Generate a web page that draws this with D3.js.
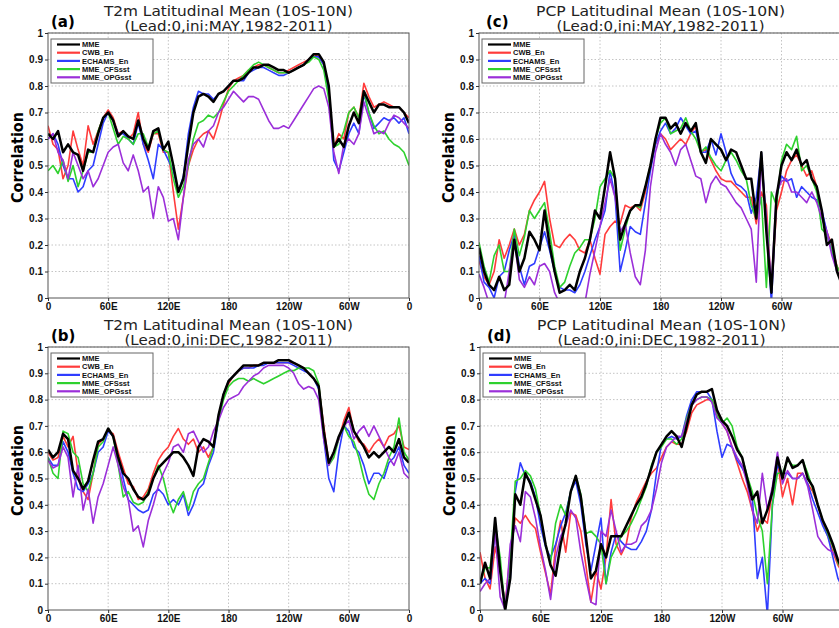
<!DOCTYPE html>
<html>
<head>
<meta charset="utf-8">
<script src="https://cdn.jsdelivr.net/npm/d3@7"></script>
<style>
  body { margin: 0; background: #fff; }
  svg { display: block; }
  .tick text { font-family: "Liberation Sans", Arial, sans-serif; font-weight: bold; font-size: 10px; fill: #111; }
  .tick line { stroke: #333; }
</style>
</head>
<body>
<svg id="chart" width="839" height="628"></svg>
<script>
// longitudes sampled every 5 degrees, 0 -> 360
var lons = d3.range(0, 361, 5);

var seriesNames = ["MME", "CWB_En", "ECHAMS_En", "MME_CFSsst", "MME_OPGsst"];
var xTickLons = [0, 60, 120, 180, 240, 300, 360];
var xTickLabels = ["0", "60E", "120E", "180", "120W", "60W", "0"];
var yTicks = [0, 0.1, 0.2, 0.3, 0.4, 0.5, 0.6, 0.7, 0.8, 0.9, 1];
var yTickLabels = ["0", "0.1", "0.2", "0.3", "0.4", "0.5", "0.6", "0.7", "0.8", "0.9", "1"];

// (a) T2m, ini MAY
var t2mMayMME = [0.62,0.60,0.63,0.55,0.58,0.55,0.54,0.48,0.56,0.55,0.62,0.68,0.70,0.67,0.61,0.63,0.61,0.60,0.67,0.60,0.56,0.63,0.64,0.56,0.59,0.50,0.40,0.45,0.58,0.70,0.76,0.77,0.76,0.74,0.77,0.78,0.80,0.82,0.82,0.83,0.85,0.87,0.87,0.88,0.88,0.87,0.86,0.86,0.85,0.86,0.87,0.88,0.90,0.92,0.92,0.89,0.80,0.57,0.60,0.57,0.65,0.70,0.66,0.78,0.74,0.70,0.73,0.73,0.72,0.72,0.72,0.70,0.66];
var t2mMayCWB = [0.65,0.58,0.56,0.45,0.50,0.63,0.56,0.50,0.65,0.58,0.63,0.68,0.71,0.68,0.62,0.63,0.60,0.62,0.70,0.58,0.55,0.62,0.62,0.55,0.55,0.40,0.26,0.38,0.50,0.56,0.60,0.62,0.63,0.60,0.66,0.73,0.79,0.82,0.83,0.84,0.86,0.87,0.88,0.88,0.87,0.86,0.85,0.85,0.86,0.87,0.88,0.89,0.90,0.92,0.91,0.88,0.78,0.57,0.62,0.60,0.70,0.72,0.68,0.81,0.76,0.72,0.73,0.74,0.73,0.72,0.72,0.70,0.68];
var t2mMayECH = [0.60,0.62,0.58,0.50,0.45,0.45,0.40,0.42,0.48,0.50,0.58,0.66,0.70,0.67,0.62,0.62,0.60,0.58,0.66,0.58,0.52,0.45,0.58,0.56,0.52,0.48,0.40,0.46,0.62,0.72,0.78,0.77,0.77,0.75,0.77,0.78,0.80,0.82,0.82,0.82,0.85,0.86,0.87,0.87,0.86,0.85,0.84,0.84,0.85,0.86,0.87,0.88,0.90,0.91,0.91,0.88,0.78,0.52,0.48,0.55,0.62,0.66,0.62,0.77,0.70,0.64,0.66,0.68,0.67,0.68,0.66,0.68,0.62];
var t2mMayCFS = [0.48,0.50,0.47,0.52,0.44,0.50,0.42,0.48,0.55,0.55,0.63,0.68,0.70,0.64,0.58,0.61,0.60,0.58,0.62,0.62,0.57,0.62,0.63,0.56,0.55,0.45,0.38,0.42,0.50,0.60,0.66,0.67,0.69,0.68,0.70,0.74,0.78,0.80,0.82,0.84,0.86,0.88,0.89,0.88,0.87,0.86,0.85,0.85,0.85,0.86,0.87,0.88,0.89,0.91,0.90,0.86,0.75,0.57,0.58,0.63,0.70,0.72,0.68,0.78,0.70,0.65,0.62,0.63,0.60,0.58,0.57,0.55,0.50];
var t2mMayOPG = [0.60,0.62,0.55,0.52,0.45,0.55,0.50,0.45,0.48,0.42,0.45,0.50,0.55,0.57,0.58,0.51,0.48,0.54,0.48,0.40,0.42,0.30,0.42,0.38,0.29,0.30,0.22,0.38,0.52,0.58,0.60,0.57,0.63,0.65,0.70,0.72,0.75,0.78,0.76,0.74,0.76,0.76,0.75,0.71,0.67,0.64,0.64,0.65,0.64,0.67,0.70,0.73,0.76,0.79,0.80,0.79,0.72,0.55,0.47,0.58,0.60,0.58,0.62,0.74,0.68,0.62,0.63,0.62,0.66,0.69,0.68,0.66,0.64];

// (b) T2m, ini DEC
var t2mDecMME = [0.61,0.58,0.60,0.67,0.65,0.53,0.50,0.46,0.49,0.57,0.64,0.65,0.69,0.66,0.58,0.52,0.50,0.46,0.43,0.42,0.44,0.50,0.54,0.56,0.58,0.60,0.60,0.58,0.55,0.51,0.62,0.65,0.64,0.62,0.74,0.82,0.87,0.89,0.91,0.93,0.93,0.93,0.93,0.94,0.94,0.94,0.95,0.95,0.95,0.94,0.93,0.92,0.90,0.88,0.85,0.68,0.56,0.60,0.66,0.70,0.75,0.68,0.65,0.62,0.58,0.60,0.58,0.60,0.62,0.60,0.65,0.58,0.56];
var t2mDecCWB = [0.60,0.57,0.58,0.66,0.62,0.66,0.52,0.45,0.42,0.52,0.63,0.65,0.68,0.67,0.60,0.54,0.48,0.47,0.42,0.43,0.46,0.52,0.57,0.60,0.62,0.66,0.69,0.65,0.63,0.65,0.60,0.62,0.58,0.62,0.73,0.82,0.86,0.89,0.91,0.92,0.92,0.93,0.93,0.94,0.94,0.94,0.94,0.94,0.94,0.94,0.93,0.92,0.90,0.88,0.85,0.70,0.56,0.60,0.65,0.72,0.77,0.68,0.64,0.63,0.60,0.63,0.65,0.62,0.66,0.67,0.70,0.62,0.61];
var t2mDecECH = [0.58,0.55,0.55,0.64,0.60,0.52,0.46,0.45,0.48,0.52,0.60,0.62,0.68,0.66,0.58,0.50,0.42,0.40,0.38,0.37,0.38,0.44,0.46,0.44,0.40,0.42,0.40,0.44,0.36,0.40,0.46,0.48,0.55,0.60,0.72,0.82,0.87,0.89,0.91,0.92,0.92,0.92,0.93,0.93,0.94,0.94,0.94,0.94,0.94,0.93,0.92,0.91,0.90,0.88,0.84,0.65,0.50,0.45,0.60,0.70,0.68,0.62,0.60,0.55,0.48,0.52,0.52,0.50,0.56,0.58,0.62,0.55,0.52];
var t2mDecCFS = [0.58,0.52,0.50,0.68,0.67,0.60,0.58,0.48,0.45,0.52,0.62,0.64,0.69,0.66,0.55,0.43,0.45,0.41,0.40,0.41,0.45,0.50,0.55,0.50,0.42,0.37,0.42,0.45,0.38,0.45,0.48,0.50,0.56,0.62,0.72,0.80,0.85,0.87,0.88,0.88,0.87,0.88,0.87,0.86,0.87,0.88,0.89,0.90,0.91,0.91,0.92,0.92,0.92,0.91,0.86,0.68,0.55,0.58,0.65,0.70,0.66,0.64,0.58,0.50,0.44,0.42,0.48,0.52,0.58,0.62,0.73,0.60,0.57];
var t2mDecOPG = [0.57,0.54,0.55,0.62,0.58,0.43,0.55,0.38,0.46,0.33,0.43,0.48,0.55,0.62,0.55,0.47,0.42,0.30,0.32,0.24,0.34,0.40,0.47,0.52,0.56,0.62,0.63,0.60,0.67,0.68,0.64,0.60,0.62,0.68,0.72,0.77,0.80,0.81,0.82,0.85,0.87,0.89,0.90,0.92,0.93,0.93,0.93,0.93,0.92,0.90,0.86,0.84,0.85,0.84,0.80,0.65,0.55,0.60,0.65,0.70,0.72,0.65,0.68,0.70,0.66,0.70,0.66,0.62,0.58,0.55,0.60,0.52,0.50];

// (c) PCP, ini MAY
var pcpMayMME = [0.19,0.10,0.05,0.03,0.08,0.03,0.05,0.22,0.10,0.15,0.25,0.22,0.18,0.33,0.20,0.10,0.02,0.03,0.05,0.03,0.10,0.15,0.22,0.33,0.30,0.42,0.55,0.45,0.22,0.28,0.33,0.35,0.35,0.42,0.50,0.60,0.68,0.68,0.64,0.66,0.62,0.66,0.63,0.66,0.55,0.51,0.60,0.58,0.56,0.52,0.56,0.55,0.50,0.45,0.45,0.30,0.55,0.25,0.02,0.38,0.50,0.55,0.52,0.56,0.50,0.52,0.45,0.42,0.33,0.20,0.22,0.10,0.05];
var pcpMayCWB = [0.14,0.08,0.05,0.10,0.22,0.15,0.20,0.26,0.20,0.24,0.33,0.37,0.40,0.44,0.30,0.20,0.19,0.22,0.24,0.22,0.18,0.17,0.22,0.15,0.09,0.24,0.27,0.29,0.28,0.35,0.34,0.35,0.33,0.40,0.50,0.58,0.62,0.60,0.56,0.58,0.60,0.58,0.62,0.65,0.55,0.56,0.52,0.48,0.45,0.44,0.44,0.42,0.40,0.38,0.38,0.28,0.40,0.35,0.02,0.33,0.40,0.48,0.52,0.54,0.50,0.46,0.48,0.42,0.32,0.25,0.20,0.12,0.08];
var pcpMayECH = [0.16,0.06,0.04,0.00,0.08,0.10,0.18,0.24,0.12,0.05,0.12,0.13,0.19,0.25,0.18,0.10,0.04,0.03,0.03,0.02,0.05,0.10,0.16,0.22,0.27,0.33,0.48,0.38,0.10,0.18,0.27,0.25,0.24,0.36,0.48,0.58,0.63,0.66,0.62,0.64,0.68,0.65,0.62,0.63,0.55,0.55,0.60,0.54,0.62,0.55,0.47,0.43,0.42,0.40,0.32,0.38,0.55,0.28,-0.02,0.38,0.46,0.44,0.45,0.38,0.42,0.40,0.38,0.37,0.33,0.25,0.18,0.10,0.08];
var pcpMayCFS = [0.21,0.12,0.06,0.16,0.20,0.10,0.10,0.26,0.16,0.23,0.33,0.30,0.33,0.36,0.25,0.12,0.04,0.06,0.12,0.17,0.19,0.22,0.22,0.30,0.42,0.45,0.48,0.45,0.18,0.26,0.33,0.35,0.34,0.42,0.50,0.60,0.66,0.68,0.62,0.63,0.64,0.68,0.63,0.60,0.55,0.57,0.53,0.50,0.48,0.52,0.55,0.52,0.48,0.45,0.35,0.30,0.38,0.04,0.40,0.35,0.52,0.58,0.56,0.61,0.48,0.50,0.45,0.40,0.26,0.24,0.18,0.12,0.08];
var pcpMayOPG = [0.09,0.04,-0.02,-0.02,-0.02,-0.02,0.10,0.22,0.07,0.04,0.08,0.05,0.12,0.13,0.10,0.02,-0.02,-0.02,-0.02,-0.02,-0.02,-0.02,0.09,0.18,0.27,0.36,0.45,0.38,0.25,0.28,0.17,0.08,0.05,0.18,0.42,0.55,0.62,0.58,0.55,0.50,0.56,0.58,0.52,0.46,0.45,0.36,0.43,0.46,0.43,0.42,0.39,0.36,0.34,0.30,0.26,0.06,0.52,0.30,0.05,0.40,0.44,0.45,0.40,0.40,0.38,0.36,0.40,0.36,0.30,0.25,0.16,0.10,0.08];

// (d) PCP, ini DEC
var pcpDecMME = [0.10,0.18,0.12,0.35,0.15,0.00,0.12,0.44,0.40,0.52,0.48,0.42,0.36,0.25,0.17,0.13,0.25,0.33,0.45,0.51,0.43,0.28,0.12,0.15,0.25,0.20,0.28,0.28,0.28,0.32,0.36,0.40,0.43,0.48,0.54,0.60,0.63,0.66,0.68,0.66,0.62,0.70,0.78,0.82,0.83,0.83,0.84,0.76,0.72,0.70,0.66,0.61,0.58,0.50,0.42,0.45,0.33,0.38,0.45,0.58,0.50,0.58,0.54,0.55,0.57,0.50,0.47,0.40,0.34,0.30,0.25,0.19,0.15];
var pcpDecCWB = [0.22,0.12,0.08,0.24,0.15,0.02,0.22,0.35,0.33,0.36,0.33,0.31,0.22,0.14,0.06,0.24,0.34,0.22,0.37,0.36,0.30,0.17,0.03,0.15,0.08,0.20,0.42,0.25,0.21,0.25,0.35,0.41,0.45,0.49,0.52,0.54,0.58,0.62,0.64,0.63,0.63,0.68,0.75,0.78,0.79,0.80,0.80,0.74,0.71,0.68,0.62,0.56,0.50,0.45,0.38,0.30,0.35,0.33,0.45,0.57,0.43,0.50,0.40,0.52,0.52,0.48,0.45,0.40,0.33,0.28,0.22,0.17,0.14];
var pcpDecECH = [0.10,0.12,0.10,0.30,0.15,0.02,0.12,0.45,0.56,0.51,0.49,0.43,0.32,0.24,0.20,0.25,0.32,0.37,0.45,0.49,0.40,0.25,0.15,0.25,0.35,0.10,0.22,0.29,0.26,0.24,0.23,0.23,0.26,0.30,0.38,0.52,0.63,0.65,0.66,0.65,0.66,0.74,0.80,0.83,0.83,0.83,0.80,0.68,0.58,0.63,0.62,0.57,0.54,0.50,0.44,0.12,0.20,-0.02,0.40,0.55,0.52,0.52,0.50,0.50,0.52,0.48,0.42,0.37,0.32,0.28,0.20,0.12,0.08];
var pcpDecCFS = [0.10,0.16,0.16,0.33,0.20,0.00,0.20,0.49,0.50,0.53,0.51,0.46,0.36,0.25,0.18,0.33,0.40,0.36,0.45,0.51,0.44,0.29,0.30,0.28,0.25,0.10,0.20,0.24,0.28,0.30,0.33,0.37,0.42,0.47,0.55,0.60,0.62,0.65,0.65,0.63,0.65,0.73,0.78,0.80,0.81,0.81,0.80,0.74,0.71,0.73,0.70,0.62,0.58,0.51,0.45,0.36,0.30,0.10,0.40,0.52,0.52,0.57,0.55,0.55,0.57,0.52,0.46,0.40,0.34,0.29,0.24,0.18,0.14];
var pcpDecOPG = [0.07,0.10,0.12,0.30,0.05,0.00,0.25,0.32,0.26,0.45,0.43,0.35,0.24,0.15,0.04,0.20,0.28,0.32,0.38,0.35,0.22,0.12,0.03,0.02,0.30,0.28,0.38,0.30,0.22,0.25,0.25,0.26,0.32,0.34,0.38,0.46,0.56,0.62,0.64,0.66,0.66,0.72,0.78,0.80,0.81,0.81,0.79,0.73,0.71,0.68,0.62,0.58,0.55,0.48,0.38,0.33,0.52,0.38,0.47,0.60,0.48,0.53,0.50,0.50,0.52,0.47,0.38,0.28,0.25,0.23,0.22,0.19,0.15];

var lineColors = {"MME": "#000000", "CWB_En": "#ff3b3b", "ECHAMS_En": "#2f3dff", "MME_CFSsst": "#2ed12e", "MME_OPGsst": "#9b2fd9"};
var lineWidths = {"MME": 2.5, "CWB_En": 1.6, "ECHAMS_En": 1.6, "MME_CFSsst": 1.6, "MME_OPGsst": 1.6};

var panels = [
  {tag: "(a)", t1: "T2m Latitudinal Mean (10S-10N)", t2: "(Lead:0,ini:MAY,1982-2011)", left: 48, top: 33, w: 361, h: 265,
   data: [t2mMayMME, t2mMayCWB, t2mMayECH, t2mMayCFS, t2mMayOPG]},
  {tag: "(b)", t1: "T2m Latitudinal Mean (10S-10N)", t2: "(Lead:0,ini:DEC,1982-2011)", left: 48, top: 347, w: 361, h: 263,
   data: [t2mDecMME, t2mDecCWB, t2mDecECH, t2mDecCFS, t2mDecOPG]},
  {tag: "(c)", t1: "PCP Latitudinal Mean (10S-10N)", t2: "(Lead:0,ini:MAY,1982-2011)", left: 479, top: 33, w: 363, h: 265,
   data: [pcpMayMME, pcpMayCWB, pcpMayECH, pcpMayCFS, pcpMayOPG]},
  {tag: "(d)", t1: "PCP Latitudinal Mean (10S-10N)", t2: "(Lead:0,ini:DEC,1982-2011)", left: 480, top: 347, w: 363, h: 263,
   data: [pcpDecMME, pcpDecCWB, pcpDecECH, pcpDecCFS, pcpDecOPG]}
];

var svg = d3.select("#chart");
svg.append("rect").attr("width", 839).attr("height", 628).attr("fill", "#fff");

var titleFont = "'DejaVu Sans', 'Liberation Sans', sans-serif";

panels.forEach(function(p, pi) {
  var x = d3.scaleLinear().domain([0, 360]).range([p.left, p.left + p.w]);
  var y = d3.scaleLinear().domain([0, 1]).range([p.top + p.h, p.top]);
  var g = svg.append("g").attr("class", "panel");

  // dotted grid
  g.append("g").selectAll("line").data(yTicks.slice(1)).enter().append("line")
    .attr("x1", p.left).attr("x2", p.left + p.w)
    .attr("y1", function(d) { return y(d); }).attr("y2", function(d) { return y(d); })
    .attr("stroke", "#c4c4c4").attr("stroke-width", 1).attr("stroke-dasharray", "1.5,2");
  g.append("g").selectAll("line").data(xTickLons.slice(1, -1)).enter().append("line")
    .attr("x1", function(d) { return x(d); }).attr("x2", function(d) { return x(d); })
    .attr("y1", p.top).attr("y2", p.top + p.h)
    .attr("stroke", "#c4c4c4").attr("stroke-width", 1).attr("stroke-dasharray", "1.5,2");

  // clip for the lines
  var clipId = "clip" + pi;
  svg.append("clipPath").attr("id", clipId).append("rect")
    .attr("x", p.left).attr("y", p.top).attr("width", p.w).attr("height", p.h);

  var line = d3.line()
    .x(function(d, i) { return x(lons[i]); })
    .y(function(d) { return y(d); });

  var order = [1, 2, 3, 4, 0]; // MME drawn on top
  var lg = g.append("g").attr("clip-path", "url(#" + clipId + ")");
  order.forEach(function(k) {
    lg.append("path")
      .datum(p.data[k])
      .attr("d", line)
      .attr("fill", "none")
      .attr("stroke", lineColors[seriesNames[k]])
      .attr("stroke-width", lineWidths[seriesNames[k]])
      .attr("stroke-linejoin", "round");
  });

  // frame
  g.append("rect").attr("x", p.left).attr("y", p.top).attr("width", p.w).attr("height", p.h)
    .attr("fill", "none").attr("stroke", "#555").attr("stroke-width", 1);

  // axes
  var yAxis = d3.axisLeft(y).tickValues(yTicks)
    .tickFormat(function(d, i) { return yTickLabels[i]; })
    .tickSize(3).tickPadding(2);
  g.append("g").attr("transform", "translate(" + p.left + ",0)").call(yAxis)
    .call(function(s) { s.select(".domain").remove(); });

  var xAxis = d3.axisBottom(x).tickValues(xTickLons)
    .tickFormat(function(d, i) { return xTickLabels[i]; })
    .tickSize(3).tickPadding(2);
  g.append("g").attr("transform", "translate(0," + (p.top + p.h) + ")").call(xAxis)
    .call(function(s) { s.select(".domain").remove(); });

  // titles
  var cx = p.left + p.w / 2;
  g.append("text").attr("x", cx).attr("y", p.top - 17).attr("text-anchor", "middle")
    .attr("font-family", titleFont).attr("font-size", 13.5).attr("fill", "#222")
    .attr("textLength", 249).attr("lengthAdjust", "spacingAndGlyphs")
    .text(p.t1);
  g.append("text").attr("x", cx).attr("y", p.top - 2).attr("text-anchor", "middle")
    .attr("font-family", titleFont).attr("font-size", 13.5).attr("fill", "#222")
    .attr("textLength", 208).attr("lengthAdjust", "spacingAndGlyphs")
    .text(p.t2);
  g.append("text").attr("x", p.left + 3 + (pi >= 2 ? 4 : 0)).attr("y", p.top - 6)
    .attr("font-family", "'DejaVu Sans', sans-serif").attr("font-weight", "bold")
    .attr("font-size", 15).attr("fill", "#000")
    .text(p.tag);

  // y label
  g.append("text")
    .attr("transform", "translate(" + (p.left - 25) + "," + (p.top + p.h / 2 - 8) + ") rotate(-90)")
    .attr("text-anchor", "middle")
    .attr("font-family", "'DejaVu Sans', sans-serif").attr("font-weight", "bold")
    .attr("font-size", 16).attr("fill", "#000")
    .attr("textLength", 91).attr("lengthAdjust", "spacingAndGlyphs")
    .text("Correlation");

  // legend
  var lx = p.left + 3, ly = p.top + 6;
  var leg = g.append("g");
  leg.append("rect").attr("x", lx).attr("y", ly).attr("width", 102).attr("height", 44)
    .attr("fill", "#fff").attr("stroke", "#666").attr("stroke-width", 1);
  seriesNames.forEach(function(name, i) {
    var ry = ly + 5.5 + i * 8.2;
    leg.append("line").attr("x1", lx + 6).attr("x2", lx + 29).attr("y1", ry).attr("y2", ry)
      .attr("stroke", lineColors[name]).attr("stroke-width", 2.2);
    leg.append("text").attr("x", lx + 31).attr("y", ry + 2.6)
      .attr("font-family", "'Liberation Sans', sans-serif").attr("font-weight", "bold")
      .attr("font-size", 7.5).attr("fill", "#111")
      .text(name);
  });
});
</script>
</body>
</html>
